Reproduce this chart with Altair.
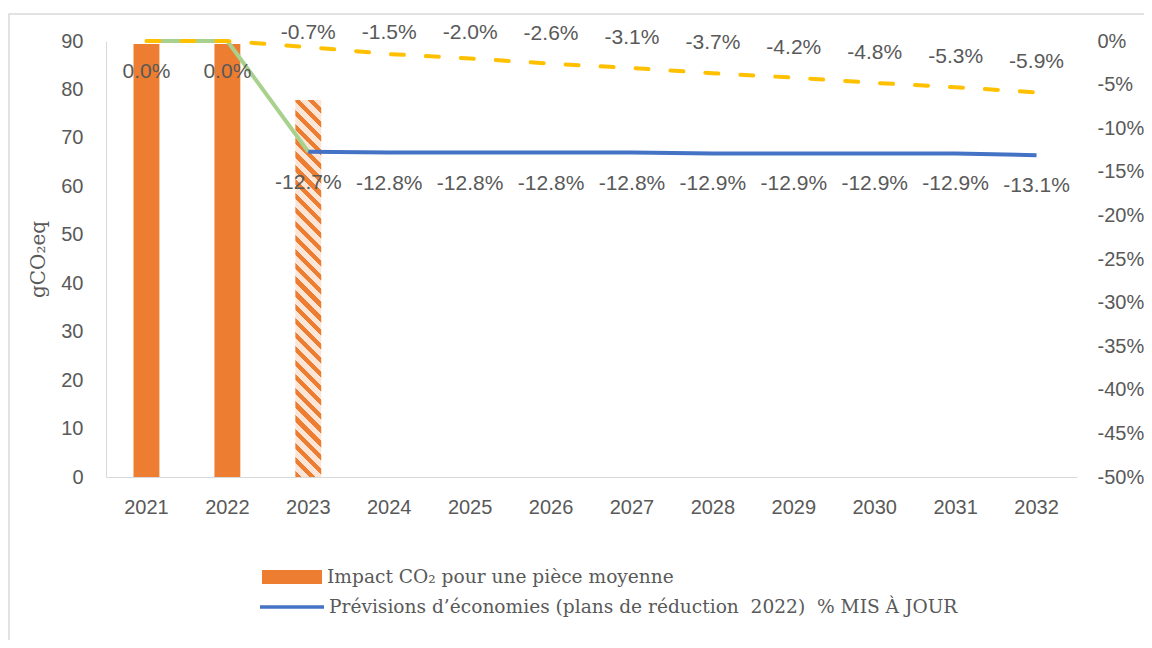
import altair as alt
import pandas as pd

# ---------------- data ----------------
years = [str(y) for y in range(2021, 2033)]

impact_years = ["2021", "2022", "2023"]
impact_values = [89.4, 89.4, 77.8]          # gCO2eq
impact_estimated = [False, False, True]     # 2023 drawn hatched

updated_years = years
updated_pct = [0.0, 0.0, -0.7, -1.5, -2.0, -2.6, -3.1, -3.7, -4.2, -4.8, -5.3, -5.9]

plan_years = years[2:]
plan_pct = [-12.7, -12.8, -12.8, -12.8, -12.8, -12.9, -12.9, -12.9, -12.9, -13.1]

actual_years = ["2021", "2022", "2023"]
actual_pct = [0.0, 0.0, -12.7]

label_bar = "Impact CO₂ pour une pièce moyenne"
label_plan = "Prévisions d’économies (plans de réduction\u00a0 2022)\u00a0 % MIS À JOUR"

# ---------------- style / layout ----------------
W_PLOT, H_PLOT = 971, 436
PAD = {"left": 98, "top": 33, "right": 67, "bottom": 163}
ORANGE = "#ED7D31"
PEACH = "#FBE5D6"
BLUE = "#4472C4"
YELLOW = "#FFC000"
GREEN = "#A9D18E"
GRAY_TXT = "#595959"
GRAY_LINE = "#D9D9D9"
SANS = "Liberation Sans"
SERIF = "DejaVu Serif"
FS = 20
FS_DATA = 21
FS_LEG = 18.6
LEFT_MAX = 90
RIGHT_MIN = -50
BAR_FRAC = 0.32

# ---------------- frames ----------------
bars = pd.DataFrame({"year": impact_years, "value": impact_values,
                     "est": impact_estimated, "series": label_bar})
bars_solid = bars[~bars["est"]]
bars_hatch = bars[bars["est"]]

upd = pd.DataFrame({"year": updated_years, "v": updated_pct})
upd["txt"] = [f"{v:.1f}%" for v in updated_pct]
plan = pd.DataFrame({"year": plan_years, "v": plan_pct, "series": label_plan})
plan["txt"] = [f"{v:.1f}%" for v in plan_pct]
act = pd.DataFrame({"year": actual_years, "v": actual_pct})
act["txt"] = [f"{v:.1f}%" for v in actual_pct]

# ---------------- hatch gradient for the estimated bar ----------------
bw = BAR_FRAC * W_PLOT / len(years)
bh = bars_hatch["value"].iloc[0] / LEFT_MAX * H_PLOT
r = bw / bh
a = (r + 1) / (r * r + 1)
n_per = max(1, round((bw + bh) / (2 ** 0.5) / 9.9))
stops = []
for i in range(n_per):
    s0 = i / n_per
    s1 = (i + 0.45) / n_per
    s2 = (i + 1) / n_per
    stops += [alt.GradientStop(offset=s0, color=ORANGE),
              alt.GradientStop(offset=s1, color=ORANGE),
              alt.GradientStop(offset=s1, color=PEACH),
              alt.GradientStop(offset=min(s2, 1.0), color=PEACH)]
hatch = alt.LinearGradient(gradient="linear", stops=stops,
                           x1=0, y1=1, x2=r * a, y2=1 - a)

# ---------------- encodings ----------------
x_enc = alt.X("year:O", scale=alt.Scale(domain=years, paddingInner=1 - BAR_FRAC,
                                        paddingOuter=(1 - BAR_FRAC) / 2),
              axis=alt.Axis(title=None, labelAngle=0, ticks=False, domainColor=GRAY_LINE,
                            domainWidth=1, labelPadding=20, labelFont=SANS,
                            labelFontSize=FS, labelColor=GRAY_TXT))

left_axis = alt.Axis(title="gCO₂eq", titleFont=SERIF, titleFontSize=20, titleFontWeight="normal",
                     titleColor=GRAY_TXT, titlePadding=12, grid=False, ticks=False,
                     domainColor=GRAY_LINE, values=list(range(0, LEFT_MAX + 1, 10)),
                     labelFont=SANS, labelFontSize=FS, labelColor=GRAY_TXT, labelPadding=23)
left_scale = alt.Scale(domain=[0, LEFT_MAX], nice=False)

right_axis = alt.Axis(title=None, orient="right", grid=False, ticks=False, domain=False,
                      values=list(range(RIGHT_MIN, 1, 5)), labelExpr="datum.value + '%'",
                      labelFont=SANS, labelFontSize=FS, labelColor=GRAY_TXT, labelPadding=20)
right_scale = alt.Scale(domain=[RIGHT_MIN, 0], nice=False)

solid = alt.Chart(bars_solid).mark_bar(strokeWidth=0).encode(
    x=x_enc,
    y=alt.Y("value:Q", scale=left_scale, axis=left_axis),
    fill=alt.Fill("series:N", scale=alt.Scale(domain=[label_bar], range=[ORANGE]),
                  legend=alt.Legend(title=None, orient="none", legendX=156, legendY=506,
                                    symbolType="M-1,-0.23H1V0.23H-1Z", symbolSize=3600,
                                    symbolStrokeWidth=0, labelOffset=5, padding=0,
                                    labelFont=SERIF, labelFontSize=FS_LEG, labelColor=GRAY_TXT,
                                    labelLimit=900)),
)
hatched = alt.Chart(bars_hatch).mark_bar(fill=hatch, strokeWidth=0).encode(
    x=x_enc,
    y=alt.Y("value:Q", scale=left_scale, axis=left_axis),
)
bar_layer = alt.layer(solid, hatched)

border = alt.Chart(pd.DataFrame({"k": [0]})).mark_rect(
    fill=None, stroke=GRAY_LINE, strokeWidth=1.5).encode(
    x=alt.value(-97), x2=alt.value(W_PLOT + 200), y=alt.value(-27), y2=alt.value(H_PLOT + 300))

yr = alt.Y("v:Q", scale=right_scale, axis=right_axis)

green_line = alt.Chart(act).mark_line(color=GREEN, strokeWidth=4).encode(x=x_enc, y=yr)
blue_line = alt.Chart(plan).mark_line(strokeWidth=4).encode(
    x=x_enc, y=yr,
    stroke=alt.Stroke("series:N", scale=alt.Scale(domain=[label_plan], range=[BLUE]),
                      legend=alt.Legend(title=None, orient="none", legendX=152, legendY=532,
                                        symbolType="stroke", symbolSize=4096,
                                        symbolStrokeWidth=3.5, labelOffset=3, padding=0,
                                        labelFont=SERIF, labelFontSize=FS_LEG,
                                        labelColor=GRAY_TXT, labelLimit=900)),
)
yellow_line = alt.Chart(upd).mark_line(color=YELLOW, strokeWidth=4, strokeDash=[13, 22],
                                       strokeCap="round").encode(x=x_enc, y=yr)

txt_style = dict(font=SANS, fontSize=FS_DATA, color=GRAY_TXT, baseline="middle")
upd_txt = alt.Chart(upd.iloc[2:]).transform_calculate(
    ly="min(datum.v + 3.45, 0.92)"
).mark_text(**txt_style).encode(
    x=x_enc, y=alt.Y("ly:Q", scale=right_scale, axis=right_axis), text="txt:N")
plan_txt = alt.Chart(plan).mark_text(dy=31, **txt_style).encode(x=x_enc, y=yr, text="txt:N")
act_txt = alt.Chart(act.iloc[:2]).mark_text(dy=31, **txt_style).encode(x=x_enc, y=yr, text="txt:N")

line_layer = alt.layer(border, green_line, blue_line, yellow_line, upd_txt, plan_txt, act_txt)

chart = alt.layer(bar_layer, line_layer).resolve_scale(
    y="independent", fill="independent", stroke="independent"
).properties(
    width=W_PLOT, height=H_PLOT, autosize="none", padding=PAD, background="white"
).configure_view(stroke=None)

chart.save("out.html", embed_options={"renderer": "svg", "actions": False})
